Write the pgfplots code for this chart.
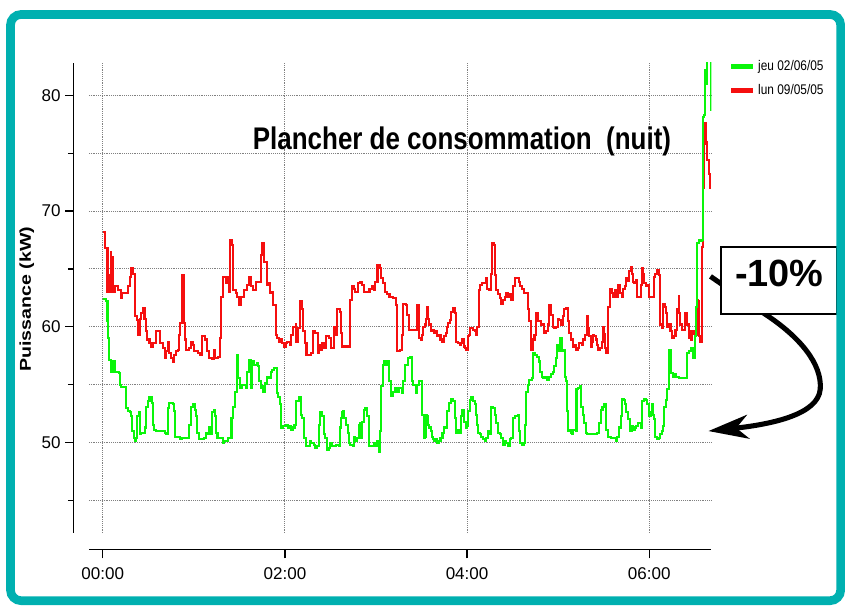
\documentclass[border=0pt]{standalone}
\usepackage{fontspec}
\setmainfont{Liberation Sans}
\usepackage{pgfplots}
\pgfplotsset{compat=1.18}
\usetikzlibrary{arrows.meta}
\definecolor{teal2}{RGB}{0,176,176}
\definecolor{grn}{RGB}{10,245,10}
\definecolor{rd}{RGB}{245,15,15}
\begin{document}
\begin{tikzpicture}
\begin{scope}[shift={(0pt,452.25pt)},x=0.75pt,y=-0.75pt]
\fill[white] (0,0) rectangle (845,603);
\useasboundingbox (0,0) rectangle (845,603);
\end{scope}
\begin{axis}[at={(66.75pt,51.75pt)}, anchor=south west, scale only axis,
 width=468pt, height=353.25pt,
 xmin=-9.2, xmax=401, ymin=42.2, ymax=82.8,
 axis lines=left, axis line style={-, line width=0.9pt, black},
 axis x line shift=12.75pt, axis y line shift=11.25pt,
 xtick={0,120,240,360}, xticklabels={00:00,02:00,04:00,06:00},
 ytick={50,60,70,80}, minor ytick={45,55,65,75},
 tick align=outside, major tick length=6.5pt, minor tick length=4.5pt,
 tick style={black, line width=0.9pt},
 xmajorgrids, ymajorgrids, yminorgrids,
 grid style={densely dotted, gray, line width=0.7pt},
 ticklabel style={font=\fontsize{12.8}{14}\selectfont},
 xticklabel style={yshift=-3pt},
 /pgf/number format/assume math mode=true,
 ylabel={\scalebox{1.25}[1]{Puissance (kW)}},
 every axis y label/.style={at={(axis description cs:-0.0994,0.497)}, rotate=90, anchor=center, font=\bfseries\fontsize{11.8}{12}\selectfont},
 legend style={at={(axis description cs:1.027,1.012)}, anchor=north west, draw=none, fill=none,
   font=\fontsize{10.5}{12}\selectfont, row sep=5pt, inner sep=0pt},
 legend cell align=left,
 legend image code/.code={\draw[#1] (0pt,0pt) -- (16.5pt,0pt);},
]
\addlegendimage{grn, line width=3.8pt}\addlegendentry{\scalebox{0.85}[1]{jeu 02/06/05}}
\addlegendimage{rd, line width=3.8pt}\addlegendentry{\scalebox{0.85}[1]{lun 09/05/05}}
% lun 09/05/05
\addplot[forget plot, const plot, rd, line width=1.55pt] coordinates {
(0,68.2) (1.3,66.8) (3.1,63.0) (3.9,64.5) (4.6,63.0) (5.2,66.5) (5.7,63.2) (6.2,66.0) (6.8,63.0) (8.3,63.5) (10.0,63.2) (11.8,62.5) (12.7,62.9) (16.6,63.5) (17.7,64.3) (18.8,65.1) (19.9,64.6) (21.4,60.9) (22.7,60.6) (23.2,59.3) (24.3,60.7) (25.4,61.2) (26.4,61.6) (27.5,60.7) (28.6,59.6) (29.3,58.9) (30.8,58.6) (31.9,58.3) (33.0,58.6) (35.2,59.6) (37.4,59.6) (38.0,58.6) (39.6,58.2) (40.7,57.3) (41.7,57.9) (42.8,58.7) (43.9,57.7) (45.0,57.3) (46.1,57.0) (47.2,57.6) (48.3,57.9) (49.4,58.0) (50.5,59.3) (51.1,60.3) (52.0,64.5) (53.3,60.3) (54.2,58.9) (54.9,58.0) (57.0,58.2) (58.1,58.7) (59.2,58.4) (60.3,57.9) (62.5,57.7) (64.3,57.6) (65.1,59.2) (67.3,58.9) (68.6,57.9) (70.2,57.3) (71.7,57.2) (73.0,58.0) (73.9,57.3) (76.1,57.4) (77.2,59.0) (77.8,62.6) (78.9,64.3) (81.1,63.8) (82.2,64.3) (83.3,63.0) (83.9,67.5) (85.0,67.1) (86.1,63.2) (87.6,62.9) (88.7,62.6) (89.8,61.9) (90.9,62.6) (93.1,63.2) (94.9,63.6) (96.4,64.3) (97.5,63.5) (99.2,63.2) (100.8,63.9)
(104.0,66.2) (105.1,67.2) (106.2,65.6) (108.4,63.6) (109.5,63.8) (110.2,62.9) (111.7,63.0) (112.3,61.9) (113.9,59.3) (115.0,59.0) (116.1,58.7) (117.2,58.9) (118.3,58.6) (119.3,58.3) (120.4,58.6) (121.5,58.7) (123.3,58.4) (124.2,59.3) (125.5,60.0) (127.0,60.2) (127.6,58.7) (128.5,59.9) (129.8,62.2) (130.9,61.5) (132.0,59.6) (133.1,58.6) (134.2,57.6) (137.3,57.7) (138.6,59.6) (140.1,59.5) (141.6,57.7) (142.5,58.4) (143.4,58.0) (144.5,58.6) (146.0,58.2) (147.3,59.2) (148.8,59.0) (150.4,58.2) (152.1,60.0) (153.2,59.3) (154.3,61.5) (156.1,61.3) (156.9,59.5) (157.6,58.3) (162.0,58.3) (163.1,62.3) (164.2,63.5) (165.2,63.3) (166.3,63.0) (167.9,63.8) (169.2,63.9) (170.7,63.6) (171.8,63.0) (175.7,63.3) (177.3,63.5) (178.4,63.2) (179.4,63.9) (181.0,65.3) (182.3,65.1) (183.2,64.2) (184.5,63.8) (186.0,63.0) (187.1,62.8) (188.9,62.6) (191.5,62.5) (193.2,61.9) (194.1,57.9) (195.8,58.0) (196.9,59.3) (198.0,62.0) (199.8,61.9) (200.6,61.0) (202.0,59.7) (206.8,61.9) (207.9,61.9)
(208.5,59.0) (209.4,58.9) (210.1,59.3) (211.2,60.0) (212.3,60.2) (212.9,60.7) (213.8,61.7) (214.4,60.7) (215.1,60.2) (216.0,59.6) (217.3,59.7) (218.2,59.5) (219.5,59.6) (220.3,59.2) (221.6,59.3) (222.5,58.9) (223.8,58.7) (224.7,59.2) (226.0,59.5) (226.9,60.0) (227.6,60.3) (228.6,60.6) (229.7,61.3) (230.8,61.6) (231.9,61.2) (232.6,58.7) (234.1,58.6) (235.2,58.4) (236.3,58.6) (236.9,58.9) (237.8,58.3) (238.5,58.2) (239.6,58.0) (240.7,59.2) (241.3,59.3) (242.2,59.9) (244.0,59.7) (245.0,59.6) (245.7,59.3) (246.8,60.0) (247.7,63.2) (248.8,63.6) (250.1,63.8) (252.3,64.2) (253.1,63.3) (254.4,63.2) (255.5,64.6) (256.2,67.2) (257.5,67.1) (258.2,64.5) (259.2,63.2) (260.3,62.8) (261.4,62.5) (262.5,62.0) (263.6,62.3) (264.7,62.6) (265.8,62.9) (266.9,62.6) (268.0,62.8) (269.1,62.3) (270.2,63.5) (271.3,64.2) (274.1,63.9) (275.0,63.5) (276.3,63.3) (277.2,62.9) (280.0,61.5) (281.1,60.5) (282.2,58.0) (283.3,58.9) (284.4,59.3) (285.5,61.2) (286.6,60.5) (288.7,60.2) (290.9,59.5) (292.0,59.6) (293.1,60.2) (294.2,61.9) (295.3,61.0) (296.4,60.0) (297.5,59.9) (298.6,60.0) (299.7,60.7) (300.8,60.6) (301.9,60.2) (303.0,60.9) (304.1,61.5) (305.1,61.6) (306.2,60.5) (307.3,59.5) (308.4,58.9) (309.5,58.3) (310.6,58.4) (311.7,58.0) (312.8,58.2)
(313.9,58.6) (315.6,58.4) (316.5,58.9) (317.8,59.3) (318.7,60.9) (319.6,59.9) (320.4,59.2) (321.5,58.3) (322.6,58.7) (323.1,59.3) (323.7,59.2) (324.8,58.9) (325.9,58.4) (326.5,58.0) (327.6,58.2) (328.7,58.7) (329.6,60.0) (330.3,59.4) (330.9,58.2) (331.8,57.7) (333.1,61.7) (334.0,63.3) (335.3,62.9) (336.2,62.6) (337.5,63.2) (338.4,62.6) (339.7,63.6) (340.5,62.9) (341.8,62.6) (342.7,63.3) (344.0,63.5) (344.9,64.2) (345.6,64.0) (346.7,64.8) (347.8,65.2) (348.4,64.6) (349.3,63.9) (349.9,63.8) (351.0,64.0) (352.1,62.6) (354.3,63.6) (355.0,65.1) (355.8,64.6) (356.5,63.8) (357.6,63.5) (358.7,63.6) (359.8,62.6) (363.1,64.3) (364.1,64.6) (365.2,64.9) (366.3,64.5) (366.8,60.9) (367.4,60.2) (368.5,59.9) (369.0,62.0) (370.3,61.7) (371.1,61.2) (371.8,60.0) (372.4,60.2) (374.0,59.6) (375.1,59.0) (376.2,59.2) (377.3,59.7) (378.4,61.5) (379.4,62.7) (379.9,61.2) (380.5,60.2) (381.6,59.7) (383.8,61.2) (384.9,60.2) (386.0,59.0) (386.4,59.6) (387.3,58.9) (388.2,59.6) (389.3,59.4) (390.4,59.3) (391.5,62.3) (392.1,62.2) (393.0,59.2) (393.6,58.7) (394.7,66.9) (395.3,72.0) (395.8,77.6) (396.3,75.8) (396.9,77.6) (397.6,76.0) (398.0,74.4) (399.1,73.2) (399.8,73.0) (400.2,72.0) (400.9,72.0)
};
% jeu 02/06/05
\addplot[forget plot, const plot, grn, line width=1.55pt] coordinates {
(0,62.4) (2.4,62.2) (3.1,60.5) (3.5,59.0) (4.1,57.1) (5.2,56.1) (6.8,57.0) (7.9,56.7) (8.3,56.1) (10.5,56.0) (11.1,55.0) (12.2,54.8) (15.5,53.0) (16.6,52.7) (17.7,52.6) (18.8,52.3) (19.2,51.0) (20.5,50.4) (21.4,50.1) (22.1,50.4) (22.7,52.3) (23.8,52.6) (24.3,50.7) (25.4,50.8) (28.0,51.3) (28.6,53.1) (29.7,53.6) (30.8,53.9) (32.3,53.4) (33.0,51.5) (33.7,51.1) (35.2,51.0) (40.7,50.8) (41.7,50.7) (42.8,53.0) (43.9,53.4) (46.1,53.3) (47.2,52.7) (47.6,50.5) (51.1,50.3) (52.0,50.4) (57.0,51.5) (58.1,53.1) (59.2,53.3) (60.8,52.8) (61.4,52.3) (62.1,50.8) (63.6,50.3) (66.4,50.4) (68.0,50.8) (69.1,50.7) (70.2,51.3) (71.2,50.7) (71.9,52.6) (73.0,52.8) (73.9,52.3) (74.5,50.8) (75.6,50.4) (78.9,50.0) (80.0,50.1) (82.2,50.4) (84.8,52.1) (86.1,53.1) (87.0,54.4) (88.3,57.6) (89.2,55.6) (90.5,54.7) (92.0,55.0) (94.2,54.7) (95.3,56.1) (96.4,57.1) (97.5,54.7) (98.6,57.0) (99.7,56.7) (101.9,56.9)
(102.3,56.6) (103.0,55.3) (104.0,54.7) (105.1,54.9) (105.8,54.4) (106.7,55.1) (108.0,55.7) (109.5,55.6) (110.6,56.1) (111.7,56.3) (112.8,56.4) (114.5,54.3) (115.4,53.9) (116.7,53.3) (117.6,51.3) (118.9,51.4) (120.4,51.5) (122.0,51.3) (123.3,51.4) (124.2,51.1) (125.5,51.3) (126.3,51.5) (127.0,52.6) (127.6,53.6) (129.2,53.9) (130.3,52.4) (131.4,52.1) (132.5,50.4) (133.6,49.7) (136.4,50.1) (137.3,50.0) (139.0,49.8) (140.1,49.5) (141.2,49.7) (142.3,51.5) (142.9,52.6) (144.5,52.3) (145.6,50.7) (146.7,50.4) (147.8,49.4) (148.8,49.5) (149.9,50.0) (151.0,49.7) (153.9,49.8) (155.4,49.7) (156.1,51.3) (156.9,52.1) (157.6,52.6) (158.2,52.7) (159.1,52.1) (160.4,51.5) (161.3,50.8) (162.0,50.0) (163.1,49.8) (164.8,49.7) (165.7,50.5) (166.3,50.1) (167.4,50.4) (168.5,51.5) (169.2,51.7) (170.1,50.4) (170.7,51.8) (171.8,52.8) (172.9,53.0) (174.0,52.3) (175.1,49.7) (178.4,50.0) (179.4,49.7) (181.0,50.1) (181.9,49.2) (182.7,51.0) (183.6,54.9) (184.5,56.7) (185.6,57.0) (187.1,56.7) (188.2,57.0) (188.8,55.3) (189.7,54.0) (191.5,54.4) (192.6,54.7) (194.1,54.4) (195.4,54.7) (196.9,54.3) (198.0,55.3) (199.1,56.7) (201.3,57.3) (202.4,57.4) (203.5,55.3) (204.6,55.0) (206.3,54.3) (206.8,55.0) (207.9,55.0)
(208.5,55.3) (209.4,55.3) (210.1,52.4) (211.6,50.4) (212.3,50.5) (212.9,52.4) (213.8,52.3) (214.4,51.5) (215.1,51.3) (216.0,51.0) (216.6,50.5) (217.3,50.3) (218.2,50.1) (219.5,50.3) (220.3,50.0) (221.6,50.1) (222.5,50.4) (223.8,50.8) (224.7,51.3) (226.9,52.7) (228.2,53.4) (229.7,53.8) (230.8,53.6) (231.9,52.1) (232.6,50.8) (234.1,51.1) (235.2,50.8) (236.3,52.3) (236.9,52.8) (237.8,51.8) (239.1,51.3) (240.0,51.4) (240.7,52.7) (241.8,53.7) (242.9,53.9) (244.0,53.6) (245.0,53.3) (245.7,52.4) (246.6,51.5) (247.2,50.8) (248.3,50.7) (249.4,50.5) (250.5,50.3) (251.6,50.1) (252.7,50.4) (253.8,51.0) (254.9,50.7) (256.0,53.1) (257.1,53.0) (258.2,52.4) (259.2,51.7) (260.3,50.8) (261.4,50.7) (262.5,50.4) (263.6,49.8) (264.7,50.1) (265.8,50.0) (266.9,49.7) (268.0,50.3) (269.1,50.4) (270.2,52.1) (271.3,52.3) (273.5,52.4) (274.1,51.0) (275.0,50.0) (276.3,49.8) (277.2,50.0) (278.0,51.5) (278.9,54.4) (280.0,55.0) (281.1,55.4) (282.9,55.6) (283.7,57.7) (285.0,57.6) (285.9,57.4) (287.2,57.0) (288.1,56.1) (289.4,55.7) (290.3,55.6) (291.6,55.7) (292.5,55.4) (293.8,55.7) (295.3,55.9) (296.4,56.1) (297.5,56.6) (298.6,57.3) (299.0,58.4) (300.3,57.9) (301.2,59.0) (302.5,57.9) (303.4,58.0) (304.3,55.7) (305.1,55.3) (305.6,52.7) (306.2,51.0) (307.3,51.1) (308.4,50.8) (309.1,50.7) (309.9,51.1) (311.7,51.0) (312.1,54.6)
(312.8,54.7) (314.3,54.9) (315.0,53.1) (316.1,52.4) (317.2,51.7) (318.2,50.8) (319.3,50.7) (325.9,50.8) (327.0,51.7) (328.1,52.8) (329.2,53.1) (330.3,53.3) (331.4,52.3) (331.8,51.1) (333.1,50.5) (334.6,50.4) (337.9,50.1) (339.0,50.5) (340.1,51.3) (341.2,52.3) (341.8,53.8) (343.4,53.7) (344.0,53.3) (344.9,52.6) (346.2,52.0) (347.1,51.0) (348.4,51.4) (349.3,51.1) (350.6,51.3) (351.5,51.4) (352.8,51.7) (354.3,51.3) (355.4,53.6) (356.5,53.8) (357.6,53.7) (358.7,53.3) (359.8,52.3) (360.9,52.6) (362.0,53.3) (362.4,52.4) (363.1,52.0) (364.1,50.5) (365.2,50.3) (366.3,50.4) (367.4,50.7) (368.5,51.0) (369.0,51.4) (369.6,53.1) (371.1,53.7) (371.8,54.6) (372.9,58.0) (374.0,58.0) (374.6,56.0) (375.5,55.7) (376.8,55.9) (377.7,55.7) (379.0,55.7) (379.9,55.6) (384.9,57.7) (386.4,57.9) (387.7,58.2) (388.6,57.3) (389.9,59.2) (390.8,61.7) (391.7,67.2) (392.6,67.5) (393.6,67.4) (394.7,67.5) (395.2,78.1) (396.3,78.3) (396.9,82.2) (397.3,81.0) (397.6,82.2) (397.9,81.0) (398.2,83.6) (399.6,83.2) (400.2,83.2) (400.9,78.6)
};
\end{axis}
\begin{scope}[shift={(0pt,452.25pt)},x=0.75pt,y=-0.75pt]
\node[font=\bfseries\fontsize{23.5}{25}\selectfont] at (463,142) {\scalebox{0.83}[1]{Plancher de consommation\ \ (nuit)}};
\draw[line width=3.8pt, -{Stealth[length=30pt,width=18pt,inset=9pt]}] (712,277) -- (767,315) .. controls (802,338) and (824,365) .. (822,390) .. controls (820,415) and (775,425) .. (710,432);
\filldraw[fill=white, draw=black, line width=1.6pt] (722.5,247.5) rectangle (839,315);
\node[font=\bfseries\fontsize{28.5}{30}\selectfont] at (781,274) {-10\%};
\draw[teal2, line width=6.5pt, rounded corners=8pt] (10.5,14.5) rectangle (842.5,602);
\end{scope}
\end{tikzpicture}
\end{document}
